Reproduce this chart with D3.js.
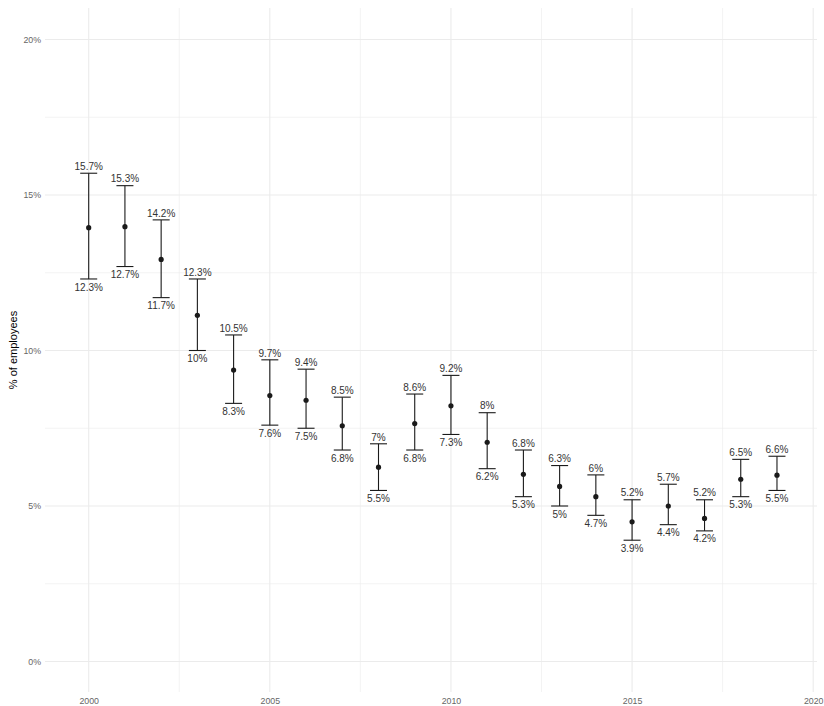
<!DOCTYPE html>
<html><head><meta charset="utf-8">
<script src="https://cdn.jsdelivr.net/npm/d3@7"></script>
<style>body{margin:0;background:#fff}svg{display:block;font-family:"Liberation Sans",Arial,sans-serif}</style>
</head><body><svg id="c" width="824" height="706"></svg>
<script>
const years = [2000,2001,2002,2003,2004,2005,2006,2007,2008,2009,2010,2011,2012,2013,2014,2015,2016,2017,2018,2019];
const means = [13.95,13.98,12.93,11.13,9.37,8.55,8.40,7.58,6.25,7.65,8.22,7.05,6.02,5.63,5.30,4.49,5.00,4.60,5.86,5.99];
const lower = [12.3,12.7,11.7,10,8.3,7.6,7.5,6.8,5.5,6.8,7.3,6.2,5.3,5,4.7,3.9,4.4,4.2,5.3,5.5];
const upper = [15.7,15.3,14.2,12.3,10.5,9.7,9.4,8.5,7,8.6,9.2,8,6.8,6.3,6,5.2,5.7,5.2,6.5,6.6];
const xTicks = [2000,2005,2010,2015,2020];
const xMinor = [2002.5,2007.5,2012.5,2017.5];
const yTicks = [0,5,10,15,20];
const yMinor = [2.5,7.5,12.5,17.5];
const yTitle = "% of employees";

const svg = d3.select("#c");
const P = {l:45, r:817, t:8, b:692};
const x = d3.scaleLinear().domain([2000,2020]).range([88.7,813.2]);
const y = d3.scaleLinear().domain([0,20]).range([661.5,39.5]);
const fmt = v => (+v.toFixed(1)) + "%";

const g = svg.append("g");
g.selectAll(".ym").data(yMinor).join("line").attr("x1",P.l).attr("x2",P.r)
 .attr("y1",d=>y(d)).attr("y2",d=>y(d)).attr("stroke","#ebebeb").attr("stroke-width",0.6);
g.selectAll(".xm").data(xMinor).join("line").attr("y1",P.t).attr("y2",P.b)
 .attr("x1",d=>x(d)).attr("x2",d=>x(d)).attr("stroke","#ebebeb").attr("stroke-width",0.6);
g.selectAll(".yM").data(yTicks).join("line").attr("x1",P.l).attr("x2",P.r)
 .attr("y1",d=>y(d)).attr("y2",d=>y(d)).attr("stroke","#ebebeb").attr("stroke-width",1.1);
g.selectAll(".xM").data(xTicks).join("line").attr("y1",P.t).attr("y2",P.b)
 .attr("x1",d=>x(d)).attr("x2",d=>x(d)).attr("stroke","#ebebeb").attr("stroke-width",1.1);

const ya = svg.append("g").attr("transform",`translate(${P.l},0)`)
 .call(d3.axisLeft(y).tickValues(yTicks).tickFormat(d=>d+"%").tickSize(0).tickPadding(4));
ya.select(".domain").remove();
ya.selectAll("text").attr("fill","#666").style("font-size","8.8px").style("font-family","Liberation Sans, Arial, sans-serif");
const xa = svg.append("g").attr("transform",`translate(0,${P.b})`)
 .call(d3.axisBottom(x).tickValues(xTicks).tickFormat(d3.format("d")).tickSize(0).tickPadding(6));
xa.select(".domain").remove();
xa.selectAll("text").attr("fill","#666").style("font-size","8.8px").style("font-family","Liberation Sans, Arial, sans-serif");

svg.append("text").attr("transform",`translate(17,${(P.t+P.b)/2}) rotate(-90)`)
 .attr("text-anchor","middle").attr("fill","#000").style("font-size","11px").text(yTitle);

const data = years.map((yr,i)=>({yr,m:means[i],lo:lower[i],hi:upper[i]}));
const cap = 8.5;
const eb = svg.append("g").attr("stroke","#1a1a1a").attr("stroke-width",1.1);
eb.selectAll(".v").data(data).join("line").attr("x1",d=>x(d.yr)).attr("x2",d=>x(d.yr))
 .attr("y1",d=>y(d.lo)).attr("y2",d=>y(d.hi));
eb.selectAll(".ct").data(data).join("line").attr("x1",d=>x(d.yr)-cap).attr("x2",d=>x(d.yr)+cap)
 .attr("y1",d=>y(d.hi)).attr("y2",d=>y(d.hi));
eb.selectAll(".cb").data(data).join("line").attr("x1",d=>x(d.yr)-cap).attr("x2",d=>x(d.yr)+cap)
 .attr("y1",d=>y(d.lo)).attr("y2",d=>y(d.lo));
svg.append("g").selectAll("circle").data(data).join("circle")
 .attr("cx",d=>x(d.yr)).attr("cy",d=>y(d.m)).attr("r",2.6).attr("fill","#1a1a1a");

const lab = svg.append("g").attr("fill","#333").style("font-size","10px").attr("text-anchor","middle");
lab.selectAll(".u").data(data).join("text").attr("x",d=>x(d.yr)).attr("y",d=>y(d.hi)-3.3).text(d=>fmt(d.hi));
lab.selectAll(".l").data(data).join("text").attr("x",d=>x(d.yr)).attr("y",d=>y(d.lo)+11.6).text(d=>fmt(d.lo));
</script></body></html>
